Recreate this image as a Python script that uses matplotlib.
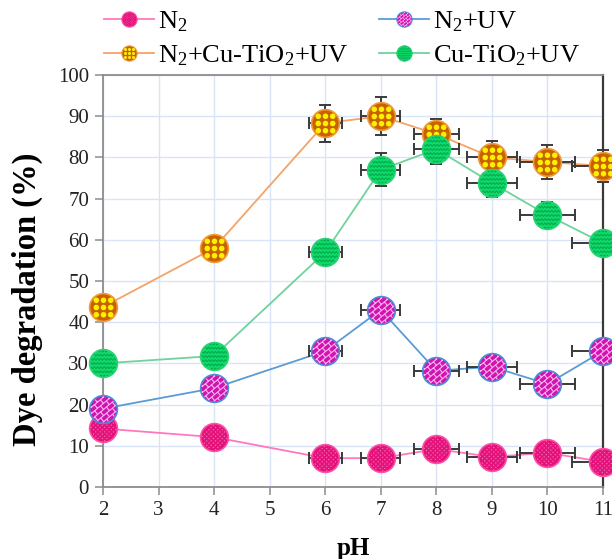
import numpy as np
import matplotlib
matplotlib.use('Agg')
import matplotlib.pyplot as plt
from matplotlib.path import Path
from matplotlib.markers import MarkerStyle
from matplotlib.lines import Line2D
from matplotlib.legend_handler import HandlerTuple

# ---------------- data ----------------
ph = [2, 4, 6, 7, 8, 9, 10, 11]
n2 = [14.2, 12.1, 7.0, 7.0, 9.2, 7.3, 8.3, 6.1]
n2_uv = [19.0, 24.0, 33.0, 43.0, 28.2, 29.2, 25.0, 33.0]
n2_cu_uv = [43.7, 58.0, 88.3, 90.0, 85.7, 80.0, 78.9, 77.9]
cu_uv = [30.0, 31.8, 57.0, 77.0, 82.0, 73.8, 66.0, 59.2]
ph_err = [0, 0, 0.3, 0.35, 0.4, 0.45, 0.5, 0.55]
n2_cu_uv_err = [0, 0, 4.5, 4.6, 3.5, 3.9, 4.2, 3.8]
cu_uv_err = [0, 0, 0, 4.0, 3.7, 3.5, 3.2, 0]
zero_err = [0, 0, 0, 0, 0, 0, 0, 0]
labels = ['N$_\\mathregular{2}$', 'N$_\\mathregular{2}$+UV',
          'N$_\\mathregular{2}$+Cu-TiO$_\\mathregular{2}$+UV',
          'Cu-TiO$_\\mathregular{2}$+UV']

plt.rcParams['font.family'] = ['Liberation Serif', 'DejaVu Serif']
plt.rcParams['mathtext.fontset'] = 'custom'
plt.rcParams['mathtext.rm'] = 'Liberation Serif'
plt.rcParams['mathtext.it'] = 'Liberation Serif:italic'
plt.rcParams['mathtext.bf'] = 'Liberation Serif:bold'


# ---------------- pattern markers ----------------
def clip_runs(pts, R):
    pts = np.asarray(pts)
    inside = np.hypot(pts[:, 0], pts[:, 1]) <= R
    runs, cur = [], []
    for p, ok in zip(pts, inside):
        if ok:
            cur.append(p)
        else:
            if len(cur) >= 2:
                runs.append(cur)
            cur = []
    if len(cur) >= 2:
        runs.append(cur)
    return runs


def runs_path(runs):
    verts, codes = [], []
    for r in runs:
        verts.extend([tuple(p) for p in r])
        codes.extend([Path.MOVETO] + [Path.LINETO] * (len(r) - 1))
    verts.append((1.0, 0.0))
    codes.append(Path.MOVETO)
    return Path(verts, codes)


def dots_path(spacing, r, R=1.0, offset=0.0, diag=False):
    paths = []
    n = int(2 / spacing) + 2
    for i in range(-n, n + 1):
        for j in range(-n, n + 1):
            if diag and (i + j) % 2:
                continue
            cx, cy = i * spacing + offset, j * spacing + offset
            if np.hypot(cx, cy) + r <= R:
                paths.append(Path.circle((cx, cy), r))
    paths.append(Path([(1.0, 0.0)], [Path.MOVETO]))
    return Path.make_compound_path(*paths)


def brick_path(h=0.34, w=0.55, angle=40, R=0.93):
    a = np.deg2rad(angle)
    c, s = np.cos(a), np.sin(a)
    runs = []
    for k in range(-5, 6):
        v = k * h
        u = np.linspace(-1.6, 1.6, 321)
        pts = np.column_stack([u * c - v * s, u * s + v * c])
        runs += clip_runs(pts, R)
        off = (k % 2) * w / 2
        for j in range(-5, 6):
            uu = j * w + off
            vv = np.linspace(v, v + h, 30)
            pts = np.column_stack([uu * c - vv * s, uu * s + vv * c])
            runs += clip_runs(pts, R)
    return runs_path(runs)


def wave_path(gap=0.3, period=0.24, amp=0.06, R=0.93):
    runs = []
    xs = np.linspace(-1.2, 1.2, 961)
    for k in range(-4, 5):
        ys = k * gap + amp * np.sin(2 * np.pi * xs / period)
        runs += clip_runs(np.column_stack([xs, ys]), R)
    return runs_path(runs)


pat_n2 = MarkerStyle(dots_path(0.16, 0.05, R=0.95, offset=0.08, diag=True))
pat_uv = MarkerStyle(brick_path())
pat_cu = MarkerStyle(dots_path(0.52, 0.2, R=1.0))
pat_ct = MarkerStyle(wave_path())

styles = [
    dict(y=n2, yerr=zero_err, line='#ff78bd', face='#e3127a', edge='#ff4fa6',
         pat=pat_n2, pfill='#f76ab0', pedge='none', pew=0),
    dict(y=n2_uv, yerr=zero_err, line='#5b9bd5', face='#cf15b0', edge='#4b8fd8',
         pat=pat_uv, pfill='none', pedge='#ffb0ee', pew=0.8),
    dict(y=n2_cu_uv, yerr=n2_cu_uv_err, line='#f2a469', face='#c86200', edge='#f09a3a',
         pat=pat_cu, pfill='#fff000', pedge='none', pew=0),
    dict(y=cu_uv, yerr=cu_uv_err, line='#70d29c', face='#0ddc6c', edge='#2ad273',
         pat=pat_ct, pfill='none', pedge='#06a94c', pew=0.8),
]

# ---------------- figure ----------------
fig = plt.figure(figsize=(6.12, 5.59), dpi=100)
ax = fig.add_axes([103 / 612, 1 - 487 / 559, 500 / 612, 412 / 559])

MS = 20
for i, st in enumerate(styles):
    ax.plot(ph, st['y'], '-', color=st['line'], lw=1.3, zorder=2)
for i, st in enumerate(styles):
    eb = ax.errorbar(ph, st['y'], xerr=ph_err, yerr=st['yerr'], fmt='none',
                     ecolor='#3a3a3a', elinewidth=1.4, capsize=4.3, capthick=1.4,
                     zorder=3)
    for art in eb.get_children():
        art.set_clip_on(False)
for i, st in enumerate(styles):
    ax.plot(ph, st['y'], linestyle='none', marker='o', ms=MS, mfc=st['face'],
            mec=st['edge'], mew=1.2, zorder=4 + i * 0.1, clip_on=False)
    ax.plot(ph, st['y'], linestyle='none', marker=st['pat'], ms=MS,
            mfc=st['pfill'], mec=st['pedge'], mew=st['pew'],
            zorder=4.05 + i * 0.1, clip_on=False)

ax.set_xlim(2, 11)
ax.set_ylim(0, 100)
ax.set_xticks(range(2, 12))
ax.set_yticks(range(0, 101, 10))
ax.grid(True, color='#d9e5f6', lw=1.0)
ax.set_axisbelow(True)
for side in ['left', 'bottom', 'top']:
    ax.spines[side].set_color('#8c8c8c')
    ax.spines[side].set_linewidth(1.3)
ax.spines['right'].set_color('#3a3a3a')
ax.spines['right'].set_linewidth(1.6)
ax.tick_params(direction='out', length=6, width=1.1, color='#8c8c8c',
               labelsize=15, labelcolor='#222222', pad=4)

ax.set_ylabel('Dye degradation (%)', fontsize=23.5, fontweight='bold')
ax.yaxis.set_label_coords(-0.12, 0.455)
ax.set_xlabel('pH', fontsize=18, fontweight='bold', va='top')
ax.xaxis.set_label_coords(0.5, -0.121)

# ---------------- legend ----------------
handles = []
for st in styles:
    h1 = Line2D([], [], color=st['line'], lw=1.3, marker='o', ms=11,
                mfc=st['face'], mec=st['edge'], mew=0.8)
    h2 = Line2D([], [], linestyle='none', marker=st['pat'], ms=11,
                mfc=st['pfill'], mec=st['pedge'], mew=st['pew'] * 0.6)
    handles.append((h1, h2))
order = [0, 2, 1, 3]
fig.legend([handles[k] for k in order], [labels[k] for k in order],
           handler_map={tuple: HandlerTuple(ndivide=1, pad=0)},
           ncol=2, loc='upper left', bbox_to_anchor=(104 / 612, 1 - 9 / 559),
           frameon=False, fontsize=19, handlelength=1.9, handletextpad=0.15,
           columnspacing=1.15, labelspacing=0.36, borderpad=0, borderaxespad=0)

fig.savefig('out.png', dpi=100)
